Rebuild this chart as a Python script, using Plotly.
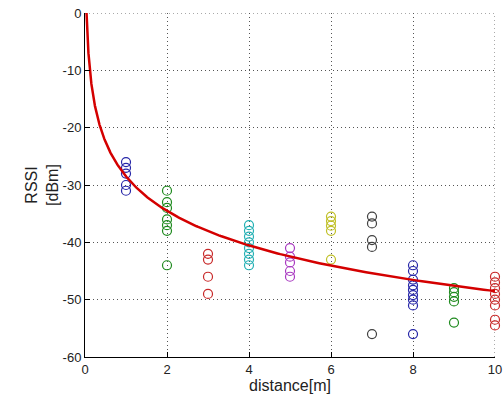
import numpy as np
import plotly.graph_objects as go

# measured RSSI samples per distance
distances = [1, 2, 3, 4, 5, 6, 7, 8, 9, 10]
rssi = [
    [-26, -27, -28, -30, -31],
    [-31, -33, -34, -36, -37, -38, -44],
    [-42, -43, -46, -49],
    [-37, -38, -39, -40, -41, -42, -43, -44],
    [-41, -42.5, -43.5, -45, -46],
    [-35.5, -36.3, -37.1, -38, -43],
    [-35.5, -36.7, -39.6, -40.8, -56],
    [-44, -45, -46.5, -47.5, -48.3, -49.2, -50, -51, -56],
    [-48, -48.7, -49.5, -50.3, -54],
    [-46, -47, -48, -49, -50, -51, -53.5, -54.5],
]
colors = ["#2626a8", "#1e8a1e", "#c82828", "#22b0b4", "#a838c0",
          "#c0c028", "#404040", "#2626a8", "#1e8a1e", "#c82828"]

# log-distance fit: RSSI = A - B*log10(d)
fit_A = -28.5
fit_B = 20.0

y_ticks = [0, -10, -20, -30, -40, -50, -60]
y_tick_text = ["0", "-10", "-20", "-30", "-40", "-50", "-60"]
x_ticks = [0, 2, 4, 6, 8, 10]

fig = go.Figure()
for d, vals, c in zip(distances, rssi, colors):
    fig.add_trace(go.Scatter(
        x=[d] * len(vals), y=vals, mode="markers",
        marker=dict(symbol="circle-open", size=9, color=c, line=dict(width=1.2, color=c)),
        showlegend=False, hoverinfo="skip", cliponaxis=False))

d0 = 10 ** (fit_A / fit_B)
xf = np.logspace(np.log10(d0), 1, 400)
yf = fit_A - fit_B * np.log10(xf)
fig.add_trace(go.Scatter(x=xf, y=yf, mode="lines",
                         line=dict(color="#d40000", width=2.5),
                         showlegend=False, hoverinfo="skip"))

font = dict(family="Liberation Sans, Arial, sans-serif", size=13, color="#222")
grid_col = "#555"
fig.update_layout(
    width=503, height=402,
    margin=dict(l=85, r=8, t=13, b=45, autoexpand=False),
    plot_bgcolor="white", paper_bgcolor="white",
    font=font,
    xaxis=dict(range=[0, 10], tickvals=x_ticks, showline=True, linecolor="black",
               linewidth=1, ticks="inside", ticklen=5, tickcolor="black",
               showgrid=True, gridcolor=grid_col, griddash="1px,3px", gridwidth=1,
               zeroline=False, automargin=False, ticklabeloverflow="allow",
               title=dict(text="distance[m]", standoff=4), tickfont=font),
    yaxis=dict(range=[-60, 0], tickvals=y_ticks, ticktext=y_tick_text,
               showline=True, linecolor="black", linewidth=1, ticks="inside",
               ticklen=5, tickcolor="black", showgrid=True, gridcolor=grid_col,
               griddash="1px,3px", gridwidth=1, zeroline=False, automargin=False,
               ticklabeloverflow="allow",
               title=dict(text="RSSI<br>[dBm]", standoff=0), tickfont=font),
)
# dotted grid at the upper and right edges (box off, grid on)
fig.add_shape(type="line", xref="paper", yref="y", x0=0, x1=1, y0=0, y1=0,
              line=dict(color=grid_col, width=1, dash="1px,3px"), layer="below")
fig.add_shape(type="line", xref="x", yref="paper", x0=10, x1=10, y0=0, y1=1,
              line=dict(color=grid_col, width=1, dash="1px,3px"), layer="below")
fig.write_html(
    "out.html",
    config={"displayModeBar": False},
    post_script="document.body.style.margin='0';document.body.style.overflow='hidden';",
)
